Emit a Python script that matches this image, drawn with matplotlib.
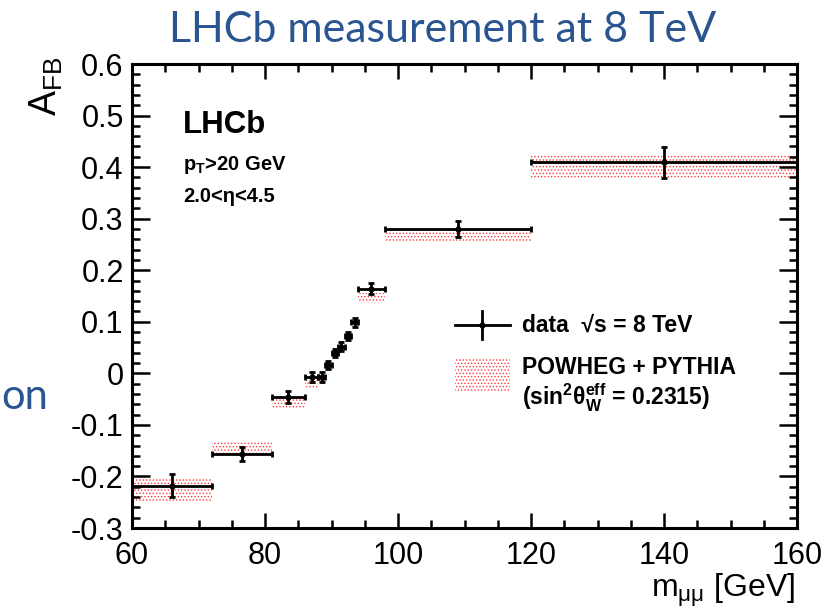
import matplotlib
matplotlib.use("Agg")
import matplotlib.pyplot as plt
import numpy as np
from matplotlib.patches import Rectangle
from matplotlib.lines import Line2D
from matplotlib.ticker import MultipleLocator, FuncFormatter

plt.rcParams['font.family'] = ['Liberation Sans', 'DejaVu Sans']
plt.rcParams['mathtext.fontset'] = 'custom'
plt.rcParams['mathtext.rm'] = 'Liberation Sans'
plt.rcParams['mathtext.it'] = 'Liberation Sans:italic'
plt.rcParams['mathtext.bf'] = 'Liberation Sans:bold'
plt.rcParams['axes.unicode_minus'] = False
plt.rcParams['hatch.linewidth'] = 0.6

# ---- data ----
bin_lo = [60, 72, 81, 86, 88, 89, 90, 91, 92, 93, 94, 98, 120]
bin_hi = [72, 81, 86, 88, 89, 90, 91, 92, 93, 94, 98, 120, 160]
afb_data = [-0.218, -0.157, -0.046, -0.007, -0.007, 0.016, 0.039, 0.052, 0.072, 0.099, 0.164, 0.280, 0.409]
afb_err = [0.022, 0.014, 0.011, 0.009, 0.009, 0.008, 0.008, 0.008, 0.008, 0.009, 0.011, 0.015, 0.030]
afb_pred = [-0.227, -0.145, -0.060, -0.020, -0.008, 0.012, 0.034, 0.050, 0.070, 0.093, 0.146, 0.266, 0.402]
pred_err = [0.023, 0.011, 0.010, 0.008, 0.006, 0.006, 0.006, 0.006, 0.006, 0.006, 0.010, 0.012, 0.024]

W, H = 825, 613
fig = plt.figure(figsize=(W / 100, H / 100), dpi=100)

def fx(px):
    return px / W

def fy(py):
    return 1 - py / H

ax = fig.add_axes([fx(132), fy(528), fx(797) - fx(132), fy(64) - fy(528)])

lo = np.array(bin_lo, float)
hi = np.array(bin_hi, float)
cen = (lo + hi) / 2
pred = np.array(afb_pred)
perr = np.array(pred_err)

red = '#ff3b3b'
ax.bar(cen, 2 * perr, bottom=pred - perr, width=hi - lo, facecolor='none',
       edgecolor=red, hatch='.....', linewidth=0, zorder=1)

ax.errorbar(cen, afb_data, yerr=afb_err, xerr=[cen - lo, hi - cen], fmt='o',
            color='black', ms=3.5, elinewidth=2.0, capsize=2.2, capthick=2.0, zorder=3)

ax.set_xlim(60, 160)
ax.set_ylim(-0.3, 0.6)
ax.xaxis.set_major_locator(MultipleLocator(20))
ax.xaxis.set_minor_locator(MultipleLocator(5))
ax.yaxis.set_major_locator(MultipleLocator(0.1))
ax.yaxis.set_minor_locator(MultipleLocator(0.02))
ax.yaxis.set_major_formatter(FuncFormatter(lambda v, p: '0' if abs(v) < 1e-9 else f'{v:.1f}'))
ax.tick_params(which='both', direction='in', top=True, right=True, width=1.8)
ax.tick_params(axis='y', which='major', length=13)
ax.tick_params(axis='y', which='minor', length=6)
ax.tick_params(axis='x', which='major', length=11)
ax.tick_params(axis='x', which='minor', length=6)
ax.tick_params(labelsize=22)
ax.tick_params(axis='x', pad=9)
ax.tick_params(axis='y', pad=6)
for s in ax.spines.values():
    s.set_linewidth(2.2)

fig.text(fx(46), fy(86), r'$\mathrm{A_{FB}}$', rotation=90, fontsize=27, ha='center', va='center')
fig.text(fx(795), fy(590), r'$\mathrm{m_{\mu\mu}}$ [GeV]', fontsize=23, ha='right', va='center')

blue = '#2b5591'
fig.text(fx(443), fy(30), 'LHCb measurement at 8 TeV', fontsize=31, color=blue,
         family=['Lato', 'DejaVu Sans'], ha='center', va='center')
fig.text(fx(1), fy(409), 'on', fontsize=30, color=blue, family=['Lato', 'DejaVu Sans'],
         ha='left', va='baseline')

fig.text(fx(183), fy(125), 'LHCb', fontsize=22.5, weight='bold', va='center')
fig.text(fx(183), fy(165), r'$\mathbf{p_{T}}$>20 GeV', fontsize=14.5, weight='bold', va='center')
fig.text(fx(183), fy(197), '2.0<η<4.5', fontsize=14.5, weight='bold', va='center')

# legend
fig.add_artist(Line2D([fx(455), fx(510)], [fy(325), fy(325)], color='black', lw=2.0))
fig.add_artist(Line2D([fx(482), fx(482)], [fy(311), fy(339)], color='black', lw=2.0))
fig.add_artist(Line2D([fx(482)], [fy(325)], marker='o', ms=3.5, color='black'))
fig.add_artist(Rectangle((fx(455), fy(392)), fx(55), fy(0) - fy(34), transform=fig.transFigure,
                         facecolor='none', edgecolor=red, hatch='.....', linewidth=0))
fig.text(fx(522), fy(325), 'data  √s = 8 TeV', fontsize=16.5, weight='bold', va='center')
fig.text(fx(522), fy(368), 'POWHEG + PYTHIA', fontsize=16.5, weight='bold', va='center')
fig.text(fx(522), fy(398), r'(sin$\mathbf{^2\theta_{W}^{eff}}$ = 0.2315)', fontsize=16.5, weight='bold', va='center')

fig.savefig('out.png', dpi=100)
